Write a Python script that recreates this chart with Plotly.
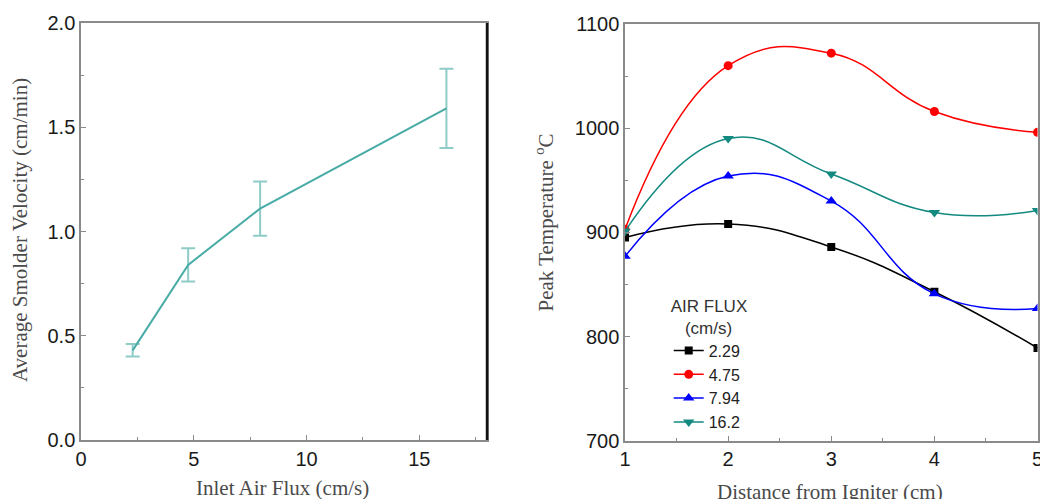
import plotly.graph_objects as go

# Smolder velocity vs inlet air flux
air_flux = [2.29, 4.75, 7.94, 16.2]
smolder_velocity = [0.43, 0.84, 1.11, 1.59]
velocity_err = [0.03, 0.08, 0.13, 0.19]

# Peak temperature profiles along the sample
distance = [1, 2, 3, 4, 5]
flux_labels = ["2.29", "4.75", "7.94", "16.2"]
temp_229 = [895, 908, 886, 843, 789]
temp_475 = [903, 1060, 1072, 1016, 996]
temp_794 = [877, 954, 930, 841, 827]
temp_162 = [901, 990, 956, 919, 921]

peak_temps = [temp_229, temp_475, temp_794, temp_162]
series_colors = ["#000000", "#ff0000", "#0000ff", "#138a80"]
series_symbols = ["square", "circle", "triangle-up", "triangle-down"]
series_sizes = [8, 9, 10, 10]

TICK_FONT = dict(family="Liberation Sans, Arial, sans-serif", size=20, color="#1a1a1a")
TITLE_FONT = dict(family="Liberation Serif, Times New Roman, serif", size=21, color="#4a4a4a")
FRAME = "#8a8a8a"

fig = go.Figure()

fig.add_trace(go.Scatter(
    x=air_flux, y=smolder_velocity,
    mode="lines",
    line=dict(color="#48aba6", width=2),
    error_y=dict(type="data", array=velocity_err, visible=True,
                 color="#8fcbc7", thickness=2, width=7),
    showlegend=False,
    xaxis="x", yaxis="y",
))

for name, temps, col, sym, sz in zip(flux_labels, peak_temps, series_colors,
                                     series_symbols, series_sizes):
    fig.add_trace(go.Scatter(
        x=distance, y=temps, name=name,
        mode="lines+markers",
        line=dict(color=col, width=1.5, shape="spline", smoothing=1.3),
        marker=dict(symbol=sym, size=sz, color=col),
        xaxis="x2", yaxis="y2",
    ))

axis_common = dict(
    showgrid=False, zeroline=False, showline=True, linecolor=FRAME,
    linewidth=1.5, mirror=True, ticks="inside", ticklen=5, tickwidth=1,
    tickcolor=FRAME, tickfont=TICK_FONT, automargin=False,
    ticklabeloverflow="allow",
)

fig.update_layout(
    width=1040, height=499,
    margin=dict(l=0, r=0, t=0, b=0, autoexpand=False),
    paper_bgcolor="white", plot_bgcolor="white",
    xaxis=dict(domain=[0.0779, 0.4683], range=[0, 18], tickvals=[0, 5, 10, 15],
               minor=dict(tickvals=[2.5, 7.5, 12.5, 17.5], ticks="inside",
                          ticklen=3, tickcolor=FRAME),
               anchor="y", **axis_common),
    yaxis=dict(domain=[0.1182, 0.9539], range=[0, 2.0],
               tickvals=[0, 0.5, 1.0, 1.5, 2.0], tickformat=".1f",
               minor=dict(tickvals=[0.25, 0.75, 1.25, 1.75], ticks="inside",
                          ticklen=3, tickcolor=FRAME),
               anchor="x", **axis_common),
    xaxis2=dict(domain=[0.601, 0.9976], range=[1, 5], tickvals=[1, 2, 3, 4, 5],
                minor=dict(tickvals=[1.5, 2.5, 3.5, 4.5], ticks="inside",
                           ticklen=3, tickcolor=FRAME),
                anchor="y2", **axis_common),
    yaxis2=dict(domain=[0.1168, 0.9519], range=[700, 1100],
                tickvals=[700, 800, 900, 1000, 1100],
                minor=dict(tickvals=[750, 850, 950, 1050], ticks="inside",
                           ticklen=3, tickcolor=FRAME),
                anchor="x2", **axis_common),
    legend=dict(
        x=0.643, y=0.42, xanchor="left", yanchor="top",
        bgcolor="rgba(0,0,0,0)",
        font=dict(family="Liberation Sans, Arial, sans-serif", size=16, color="#222"),
        title=dict(text="AIR FLUX<br>   (cm/s)",
                   font=dict(family="Liberation Sans, Arial, sans-serif",
                             size=17, color="#333"),
                   side="top"),
        tracegroupgap=0, itemwidth=30,
    ),
    shapes=[
        # heavier right-hand frame edge of the velocity panel
        dict(type="line", xref="x domain", yref="y domain",
             x0=1, x1=1, y0=0, y1=1, line=dict(color="#111111", width=2.5)),
    ],
    annotations=[
        dict(text="Inlet Air Flux (cm/s)", xref="paper", yref="paper",
             x=0.272, y=1 - 488 / 499, xanchor="center", yanchor="middle",
             showarrow=False, font=TITLE_FONT),
        dict(text="Average Smolder Velocity (cm/min)", xref="paper", yref="paper",
             x=20 / 1040, y=0.539, xanchor="center", yanchor="middle",
             textangle=-90, showarrow=False, font=TITLE_FONT),
        dict(text="Distance from Igniter (cm)", xref="paper", yref="paper",
             x=0.798, y=1 - 492 / 499, xanchor="center", yanchor="middle",
             showarrow=False, font=TITLE_FONT),
        dict(text="Peak Temperature <sup>o</sup>C", xref="paper", yref="paper",
             x=545 / 1040, y=0.554, xanchor="center", yanchor="middle",
             textangle=-90, showarrow=False, font=TITLE_FONT),
    ],
)

fig.write_html("out.html")
